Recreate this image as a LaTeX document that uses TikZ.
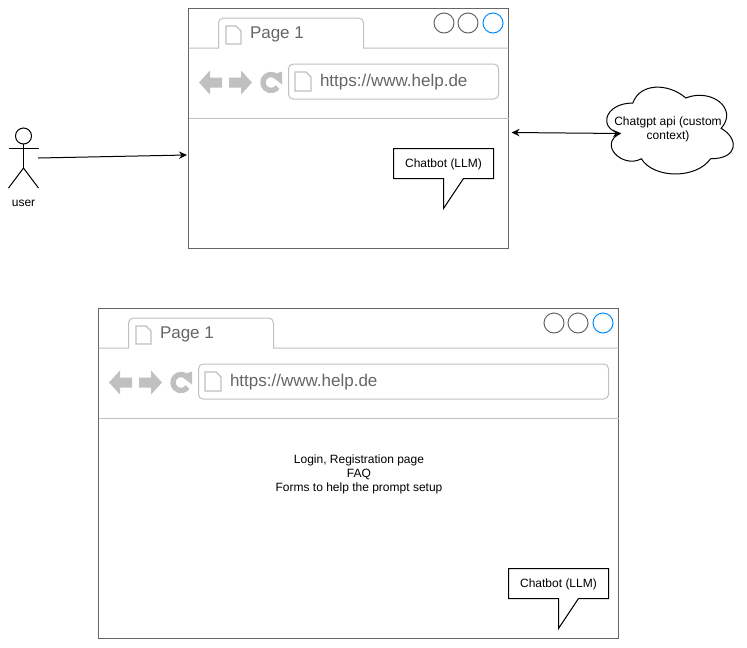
\documentclass[tikz,border=0pt]{standalone}
\usepackage{fontspec}
\setmainfont{Liberation Sans}
\usetikzlibrary{arrows.meta}
\definecolor{frameg}{HTML}{666666}
\definecolor{lightg}{HTML}{C0C0C0}
\definecolor{blueb}{HTML}{008CFF}
\tikzset{
  x=0.75pt,y=-0.75pt,
  every node/.style={inner sep=0pt,outer sep=0pt,align=center,font=\fontsize{9}{10.5}\selectfont},
  winframe/.style={draw=frameg,line width=0.75pt,fill=white,anchor=north west},
  thinline/.style={draw=lightg,line width=0.75pt},
  webtext/.style={text=frameg,anchor=west,font=\fontsize{12.75}{15}\selectfont},
  iconfill/.style={fill=lightg,draw=none},
  doc/.style={draw=lightg,line width=0.9pt,fill=white,line join=miter},
  dot/.style={draw=frameg,line width=0.75pt,fill=white},
  dotblue/.style={draw=blueb,line width=0.75pt,fill=white},
  bubble/.style={draw=black,line width=0.75pt,fill=white},
  conn/.style={draw=black,line width=0.75pt,-{Stealth[length=6pt,width=5.5pt]}},
  connboth/.style={draw=black,line width=0.75pt,{Stealth[length=6pt,width=5.5pt]}-{Stealth[length=6pt,width=5.5pt]}},
  actorline/.style={draw=black,line width=0.75pt},
}
% #1 name, #2 x, #3 y, #4 width, #5 height
\newcommand{\browserwin}[5]{%
  \begin{scope}[shift={(#2,#3)}]
    \pgfmathsetmacro{\wpt}{#4*0.75}\pgfmathsetmacro{\hpt}{#5*0.75}
    \node[winframe,minimum width=\wpt pt,minimum height=\hpt pt] (#1) at (0,0) {};
    \draw[thinline] (0,39.5) -- (30,39.5) -- (30,14.5) arc[start angle=180,end angle=90,radius=3.75pt] (35,9.5) -- (170,9.5)
      arc[start angle=90,end angle=0,radius=3.75pt] -- (175,39.5) -- (#4,39.5);
    \draw[thinline] (0,109.5) -- (#4,109.5);
    \draw[doc] (37.5,17.5) -- (47.5,17.5) -- (52.5,22.5) -- (52.5,35.5) -- (37.5,35.5) -- cycle;
    \node[webtext] (#1tab) at (61.5,26) {Page 1};
    \draw[dot] (#4-64.5,14.5) circle[radius=7.5pt];
    \draw[dot] (#4-40.5,14.5) circle[radius=7.5pt];
    \draw[dotblue] (#4-15.5,14.5) circle[radius=7.5pt];
    \draw[thinline,rounded corners=3.5pt] (100,55.5) rectangle (#4-10,90.5);
    \draw[doc] (106.5,63.5) -- (117.5,63.5) -- (122.5,68.5) -- (122.5,82.5) -- (106.5,82.5) -- cycle;
    \node[webtext] (#1url) at (131.5,73.5) {https://www.help.de};
    \fill[iconfill] (10.5,74) -- (21.5,62) -- (21.5,69) -- (33.5,69) -- (33.5,79) -- (21.5,79) -- (21.5,86) -- cycle;
    \fill[iconfill] (63.5,74) -- (52.5,62) -- (52.5,69) -- (40.5,69) -- (40.5,79) -- (52.5,79) -- (52.5,86) -- cycle;
    \draw[lightg,line width=4pt] (88.16,68.34) arc[start angle=45,end angle=325,radius=6pt];
    \fill[iconfill] (82,67) -- (93.5,63) -- (93.5,76) -- cycle;
  \end{scope}%
}
% #1 name, #2 x, #3 y
\newcommand{\chatbubble}[3]{%
  \begin{scope}[shift={(#2,#3)}]
    \draw[bubble] (0,0) -- (100,0) -- (100,30) -- (70,30) -- (50,60) -- (50,30) -- (0,30) -- cycle;
    \node (#1) at (50,16) {Chatbot (LLM)};
  \end{scope}%
}
\begin{document}
\begin{tikzpicture}
\useasboundingbox (0,0) rectangle (747,647);
\browserwin{winone}{188.5}{8.5}{320}{240}
\browserwin{wintwo}{98.5}{308.5}{520}{330}
\chatbubble{chatone}{393.5}{148.5}
\chatbubble{chattwo}{508.5}{568.5}
\node (content) at (359,474) {Login, Registration page\\FAQ\\Forms to help the prompt setup};

% actor
\node[draw=black,line width=0.75pt,circle,minimum size=12pt] (userhead) at (23.5,136) {};
\draw[actorline] (userhead.south) -- (23.5,168) coordinate (hip);
\draw[actorline] (8.5,148) -- (38.5,148);
\draw[actorline] (8.5,188) -- (hip) -- (38.5,188);
\node (user) at (23.5,203) {user};

% cloud
\begin{scope}[shift={(597.5,77.7)},x=1.06pt,y=-0.76pt]
  \draw[line width=0.75pt,draw=black,fill=white]
    (25,25) .. controls (5,25) and (0,50) .. (16,55)
    .. controls (0,66) and (18,90) .. (31,80)
    .. controls (40,100) and (70,100) .. (80,80)
    .. controls (100,80) and (100,60) .. (87.5,50)
    .. controls (100,30) and (80,10) .. (62.5,20)
    .. controls (50,5) and (30,5) .. (25,25) -- cycle;
\end{scope}
\node (cloud) at (668,129.5) {Chatgpt api (custom\\context)};

\coordinate (userout) at (38,158);
\coordinate (winin) at (187,155);
\coordinate (winright) at (511.5,132.5);
\coordinate (cloudin) at (621,133.5);
\draw[conn] (userout) -- (winin);
\draw[connboth] (winright) -- (cloudin);
\end{tikzpicture}
\end{document}
